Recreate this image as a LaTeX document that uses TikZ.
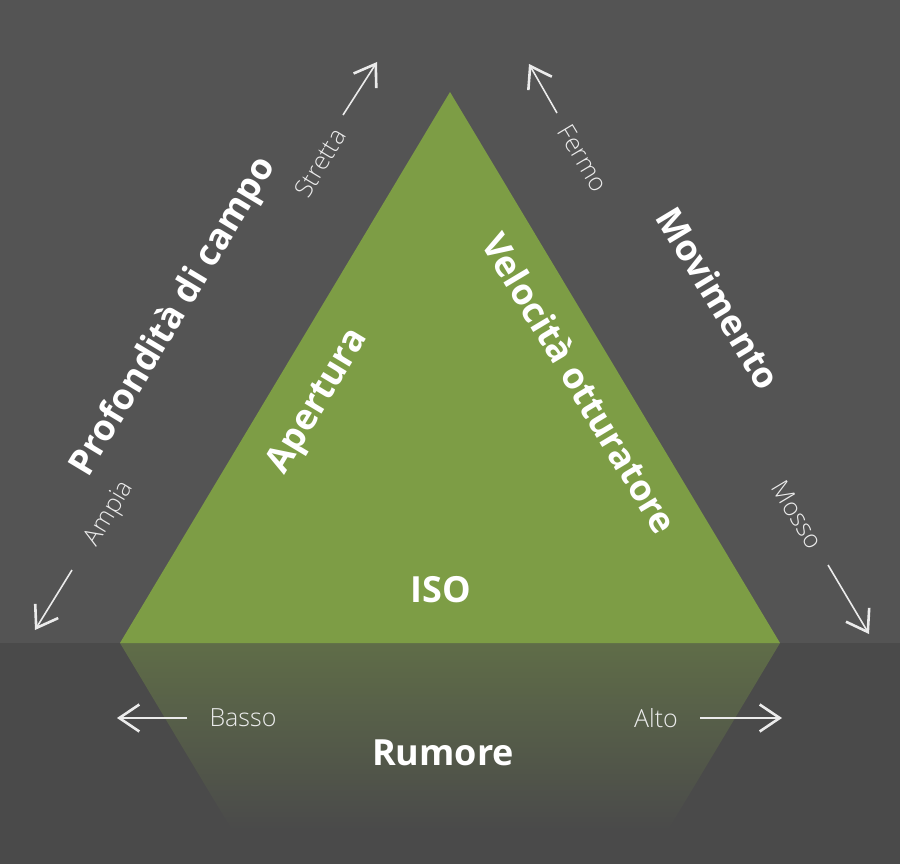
\documentclass[tikz,border=0pt]{standalone}
\usepackage{fontspec}
\setmainfont{Open Sans}
\IfFontExistsTF{Open Sans Light}
  {\newfontfamily\thinfont{Open Sans Light}}
  {\newfontfamily\thinfont{Open Sans}}
\usetikzlibrary{arrows.meta}
\definecolor{bgtop}{RGB}{84,84,84}
\definecolor{bgbot}{RGB}{74,74,74}
\definecolor{leaf}{RGB}{125,157,69}
\tikzset{
  bigtext/.style={text=white,inner sep=0pt,font=\fontsize{36}{40}\selectfont\bfseries},
  smalltext/.style={text=white!92!black,inner sep=0pt,font=\fontsize{25}{30}\thinfont},
  arr/.style={draw=white!92!black,line width=1.6pt,
    -{Straight Barb[length=20pt,width=27pt,line width=2.6pt]}}
}
\begin{document}
\begin{tikzpicture}[x=1pt,y=-1pt]

      \fill[bgtop] (0,0) rectangle (900,643);
      \fill[bgbot] (0,643) rectangle (900,864);
      \useasboundingbox (0,0) rectangle (900,864);

      \coordinate (left)  at (120,643);
      \coordinate (apex)  at (450,92);
      \coordinate (right) at (780,643);

      \shade[top color=leaf!42!bgbot,bottom color=bgbot]
        (left) -- (right) -- (668,830) -- (232,830) -- cycle;
      \fill[leaf] (left) -- (apex) -- (right) -- cycle;

      \begin{scope}[every node/.style={bigtext}]
        \node[rotate=59]  (profondita) at (174,317) {Profondità di campo};
        \node[rotate=59]  (apertura)   at (319,402) {Apertura};
        \node[rotate=-59] (velocita)   at (580,383) {Velocità otturatore};
        \node[rotate=-59] (movimento)  at (719,298) {Movimento};
        \node             (iso)        at (441,590) {ISO};
        \node             (rumore)     at (443,753) {Rumore};
      \end{scope}

      \begin{scope}[every node/.style={smalltext}]
        \node[rotate=59]  (ampia)   at (110,514) {Ampia};
        \node[rotate=59]  (stretta) at (320,163) {Stretta};
        \node[rotate=-59] (fermo)   at (583,158) {Fermo};
        \node[rotate=-59] (mosso)   at (797,515) {Mosso};
        \node             (basso)   at (243,718) {Basso};
        \node             (alto)    at (656,718) {Alto};
      \end{scope}

      \coordinate (ampiastart)   at (72,570);
      \coordinate (ampiaend)     at (35,630);
      \coordinate (strettastart) at (343,115);
      \coordinate (strettaend)   at (377,62);
      \coordinate (fermostart)   at (557,113);
      \coordinate (fermoend)     at (529,64);
      \coordinate (mossostart)   at (828,565);
      \coordinate (mossoend)     at (869,634);
      \coordinate (bassoend)     at (117,718);
      \coordinate (altoend)      at (782,718);

      \begin{scope}[every path/.style={arr}]
        \draw (ampiastart) -- (ampiaend);
        \draw (strettastart) -- (strettaend);
        \draw (fermostart) -- (fermoend);
        \draw (mossostart) -- (mossoend);
        \draw ([xshift=-22pt]basso.west) -- (bassoend);
        \draw ([xshift=22pt]alto.east) -- (altoend);
      \end{scope}

    \end{tikzpicture}
\end{document}
